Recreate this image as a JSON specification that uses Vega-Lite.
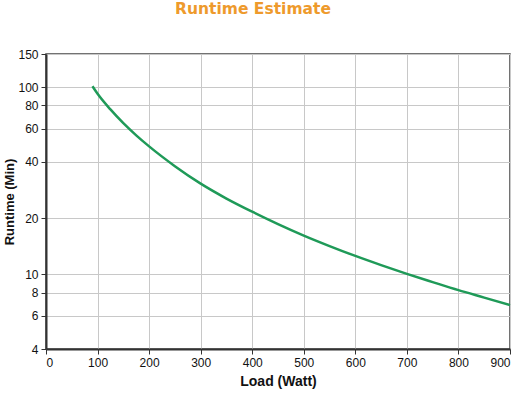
{
  "$schema": "https://vega.github.io/schema/vega-lite/v6.json",
  "autosize": "none",
  "padding": {"left": 46, "top": 54, "right": 11, "bottom": 46},
  "width": 464,
  "height": 295,
  "background": "white",
  "title": {
    "text": "Runtime Estimate",
    "color": "#ee9a2c",
    "font": "DejaVu Sans",
    "fontSize": 15.5,
    "fontWeight": "bold",
    "anchor": "middle",
    "dx": -25,
    "offset": 31
  },
  "data": {
    "values": [
      {"load": 90, "runtime": 101},
      {"load": 100, "runtime": 92},
      {"load": 125, "runtime": 75.9},
      {"load": 150, "runtime": 64.1},
      {"load": 175, "runtime": 55.2},
      {"load": 200, "runtime": 48.2},
      {"load": 250, "runtime": 37.8},
      {"load": 300, "runtime": 30.5},
      {"load": 350, "runtime": 25.4},
      {"load": 400, "runtime": 21.6},
      {"load": 450, "runtime": 18.56},
      {"load": 500, "runtime": 16.12},
      {"load": 550, "runtime": 14.17},
      {"load": 600, "runtime": 12.55},
      {"load": 650, "runtime": 11.21},
      {"load": 700, "runtime": 10.07},
      {"load": 750, "runtime": 9.1},
      {"load": 800, "runtime": 8.24},
      {"load": 850, "runtime": 7.52},
      {"load": 900, "runtime": 6.86}
    ]
  },
  "mark": {"type": "line", "color": "#1f9a58", "strokeWidth": 2.5, "interpolate": "monotone"},
  "encoding": {
    "x": {
      "field": "load",
      "type": "quantitative",
      "scale": {"domain": [0, 900], "nice": false},
      "axis": {
        "title": "Load (Watt)",
        "values": [0, 100, 200, 300, 400, 500, 600, 700, 800, 900],
        "titlePadding": 6
      }
    },
    "y": {
      "field": "runtime",
      "type": "quantitative",
      "scale": {"type": "log", "domain": [4, 150], "nice": false},
      "axis": {
        "title": "Runtime (Min)",
        "values": [4, 6, 8, 10, 20, 40, 60, 80, 100, 150],
        "format": "d",
        "titlePadding": 1,
        "titleFontSize": 13
      }
    }
  },
  "config": {
    "view": {"stroke": "#444444", "strokeWidth": 1.5},
    "axis": {
      "labelFont": "Liberation Sans",
      "labelFontSize": 12,
      "labelColor": "#111111",
      "titleFont": "Liberation Sans",
      "titleFontSize": 14,
      "titleFontWeight": "bold",
      "titleColor": "#111111",
      "gridColor": "#c8c8c8",
      "gridWidth": 1,
      "domainColor": "#333333",
      "domainWidth": 2,
      "tickColor": "#333333",
      "tickSize": 5,
      "labelPadding": 3
    }
  }
}
